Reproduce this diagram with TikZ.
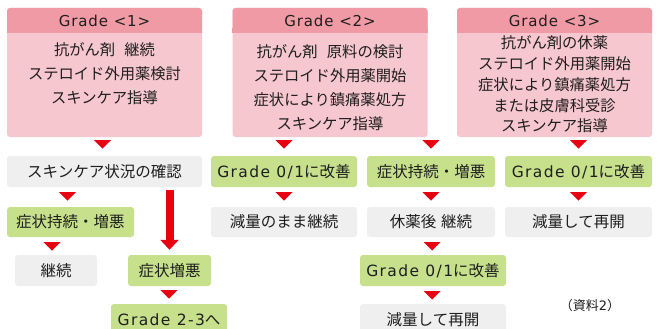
\documentclass[tikz,border=0pt]{standalone}
\usepackage{fontspec}
\setmainfont{Noto Sans CJK JP}
\newfontfamily\latf[LetterSpace=9]{DejaVu Sans}
\newfontfamily\hdrf[LetterSpace=6]{DejaVu Sans}
\newcommand\lat[1]{{\latf #1}}
\usetikzlibrary{arrows.meta}
\definecolor{hdr}{RGB}{239,154,164}
\definecolor{bdy}{RGB}{247,199,207}
\definecolor{grn}{RGB}{199,224,140}
\definecolor{gry}{RGB}{239,239,239}
\definecolor{redc}{RGB}{230,0,18}
\definecolor{txt}{RGB}{30,30,30}
\begin{document}
\begin{tikzpicture}[x=1pt,y=-1pt,
  box/.style={rounded corners=3pt, inner sep=0pt, text=txt,
    font=\fontsize{15.5}{18}\selectfont, minimum height=31pt},
  gbox/.style={box, fill=grn},
  wbox/.style={box, fill=gry},
  topbox/.style={rounded corners=3pt, fill=bdy, inner sep=0pt, minimum width=195pt, minimum height=129pt},
  headbox/.style={rounded corners=3pt, fill=hdr, inner sep=0pt, minimum width=195pt, minimum height=25pt,
    anchor=north, text=txt, font=\hdrf\fontsize{15}{18}\selectfont},
  ttext/.style={align=center, inner sep=0pt, text=txt},
  tri/.pic={\fill[redc] (-8.5,-4) -- (8.5,-4) -- (0,4.5) -- cycle;},
  bigarrow/.style={draw=redc, line width=8pt, -{Triangle[width=18pt,length=10pt]}}
]
\useasboundingbox (0,0) rectangle (661,329);

% top boxes
\foreach \n/\x/\g in {g1/104.5/1, g2/330/2, g3/554.5/3}{
  \node[topbox] (\n) at (\x,72.5) {};
  \node[headbox] (\n h) at (\n.north) {Grade <\g>};
  \fill[hdr] (\n h.south west) rectangle ([yshift=5pt]\n h.south east);
}
\node[ttext, font=\fontsize{15.3}{24}\selectfont] (g1t) at (104.5,74)
  {抗がん剤\hspace{0.6em}継続\\ステロイド外用薬検討\\スキンケア指導};
\node[ttext, font=\fontsize{15.3}{24}\selectfont] (g2t) at (330,88)
  {抗がん剤\hspace{0.6em}原料の検討\\ステロイド外用薬開始\\症状により鎮痛薬処方\\スキンケア指導};
\node[ttext, font=\fontsize{15.3}{20.75}\selectfont] (g3t) at (554.5,84.5)
  {抗がん剤の休薬\\ステロイド外用薬開始\\症状により鎮痛薬処方\\または皮膚科受診\\スキンケア指導};

% row 2
\node[wbox, minimum width=195pt] (a1) at (104.5,171.5) {スキンケア状況の確認};
\node[gbox, minimum width=146pt] (b1) at (284,171.5) {\lat{Grade 0/1}に改善};
\node[gbox, minimum width=128pt] (b2) at (431,171.5) {症状持続・増悪};
\node[gbox, minimum width=147pt] (c1) at (578.5,171.5) {\lat{Grade 0/1}に改善};

% row 3
\node[gbox, minimum width=127pt, minimum height=30pt] (a2) at (70.5,222) {症状持続・増悪};
\node[wbox, minimum width=146pt, minimum height=30pt] (b3) at (284,222) {減量のまま継続};
\node[wbox, minimum width=128pt, minimum height=30pt] (b4) at (431,222) {休薬後\hspace{0.3em}継続};
\node[wbox, minimum width=147pt, minimum height=30pt] (c2) at (578.5,222) {減量して再開};

% row 4
\node[wbox, minimum width=82pt] (a3) at (56,270.5) {継続};
\node[gbox, minimum width=83pt] (a4) at (169.5,270.5) {症状増悪};
\node[gbox, minimum width=146pt] (b5) at (433,270.5) {\lat{Grade 0/1}に改善};

% row 5
\node[gbox, minimum width=116pt] (a5) at (169,319.5) {\lat{Grade 2-3}へ};
\node[wbox, minimum width=146pt] (b6) at (433,319.5) {減量して再開};
\node[inner sep=0pt, text=txt, font=\fontsize{13}{15}\selectfont] (note) at (590,306) {（資料\lat{2}）};

% connectors
\path ([xshift=-2pt]g1.south -| a1.north) -- ([xshift=-2pt]a1.north) pic[pos=.37]{tri};
\path (g2.south -| b1.north) -- (b1.north) pic[pos=.37]{tri};
\path (g2.south -| b2.north) -- (b2.north) pic[pos=.37]{tri};
\path (g3.south -| c1.north) -- (c1.north) pic[pos=.37]{tri};

\path ([xshift=-3pt]a1.south -| a2.north) -- ([xshift=-3pt]a2.north) pic[pos=.45]{tri};
\path (b1.south -| b3.north) -- (b3.north) pic[pos=.45]{tri};
\path (b2.south -| b4.north) -- (b4.north) pic[pos=.45]{tri};
\path (c1.south -| c2.north) -- (c2.north) pic[pos=.45]{tri};

\path ([xshift=-4pt]a2.south -| a3.north) -- ([xshift=-4pt]a3.north) pic[pos=.5]{tri};
\path ([xshift=-1pt]b4.south -| b5.north) -- ([xshift=-1pt]b5.north) pic[pos=.5]{tri};

\path (a4.south -| a5.north) -- (a5.north) pic[pos=.45]{tri};
\path ([xshift=-1pt]b5.south -| b6.north) -- ([xshift=-1pt]b6.north) pic[pos=.5]{tri};

\draw[bigarrow] ([yshift=-3pt]a1.south -| a4.north) -- ([yshift=5pt]a4.north);
\end{tikzpicture}
\end{document}
